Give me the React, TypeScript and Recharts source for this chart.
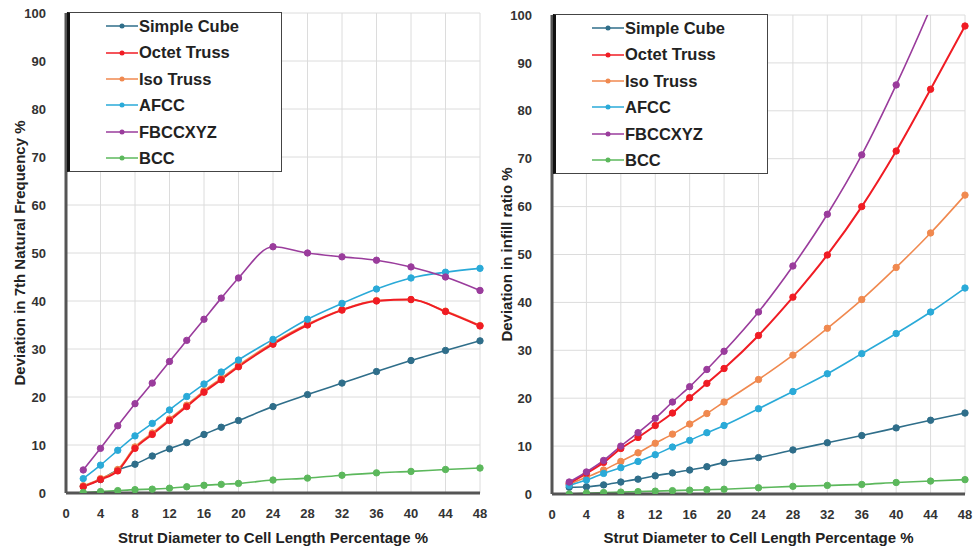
import React from 'react';
import { LineChart, Line, XAxis, YAxis, CartesianGrid, Legend } from 'recharts';

// strut diameter / cell length (%)
const xValues = [2, 4, 6, 8, 10, 12, 14, 16, 18, 20, 24, 28, 32, 36, 40, 44, 48];
const xTicks = [0, 4, 8, 12, 16, 20, 24, 28, 32, 36, 40, 44, 48];
const yTicks = [0, 10, 20, 30, 40, 50, 60, 70, 80, 90, 100];

// left chart: deviation in 7th natural frequency %
const freqSimpleCube = [1.4, 2.8, 4.8, 6.0, 7.7, 9.2, 10.5, 12.2, 13.7, 15.1, 18.0, 20.5, 22.9, 25.3, 27.6, 29.7, 31.7];
const freqOctetTruss = [1.3, 2.8, 4.6, 9.3, 12.2, 15.1, 18.0, 21.0, 23.6, 26.3, 31.0, 35.0, 38.1, 40.0, 40.3, 37.8, 34.8];
const freqIsoTruss = [1.5, 3.0, 4.9, 9.6, 12.5, 15.4, 18.3, 21.3, 23.9, 26.6, 31.3, 35.2, 38.2, 40.1, 40.3, 37.9, 34.9];
const freqAFCC = [3.0, 5.8, 8.9, 11.9, 14.5, 17.3, 20.1, 22.7, 25.2, 27.7, 32.0, 36.2, 39.5, 42.5, 44.8, 46.0, 46.8];
const freqFBCCXYZ = [4.8, 9.3, 14.0, 18.6, 22.9, 27.4, 31.8, 36.2, 40.6, 44.8, 51.3, 50.0, 49.2, 48.5, 47.1, 45.0, 42.2];
const freqBCC = [0.1, 0.3, 0.5, 0.7, 0.8, 1.0, 1.3, 1.6, 1.8, 2.0, 2.7, 3.1, 3.7, 4.2, 4.5, 4.9, 5.2];

// right chart: deviation in infill ratio %
const infillSimpleCube = [1.4, 1.5, 1.9, 2.5, 3.1, 3.8, 4.4, 5.0, 5.7, 6.6, 7.6, 9.2, 10.7, 12.2, 13.8, 15.4, 16.9];
const infillOctetTruss = [2.2, 4.3, 6.6, 9.5, 11.8, 14.3, 16.9, 20.1, 23.1, 26.2, 33.1, 41.1, 49.9, 60.0, 71.6, 84.5, 97.7];
const infillIsoTruss = [2.0, 3.5, 5.0, 6.8, 8.6, 10.6, 12.5, 14.6, 16.8, 19.2, 23.9, 29.0, 34.6, 40.6, 47.3, 54.5, 62.4];
const infillAFCC = [1.8, 2.9, 4.3, 5.5, 6.8, 8.2, 9.8, 11.2, 12.8, 14.3, 17.8, 21.4, 25.1, 29.3, 33.5, 38.0, 43.0];
const infillFBCCXYZ = [2.5, 4.6, 7.0, 10.0, 12.8, 15.8, 19.2, 22.4, 26.0, 29.8, 38.0, 47.6, 58.4, 70.8, 85.4, 101.5, 119.0];
const infillBCC = [0.0, 0.2, 0.3, 0.4, 0.5, 0.6, 0.7, 0.8, 0.9, 1.0, 1.3, 1.6, 1.8, 2.0, 2.4, 2.7, 3.0];

const seriesNames = ['Simple Cube', 'Octet Truss', 'Iso Truss', 'AFCC', 'FBCCXYZ', 'BCC'];
const seriesColors: Record<string, string> = {
  'Simple Cube': '#2f6e8a',
  'Octet Truss': '#f01c24',
  'Iso Truss': '#f0894f',
  AFCC: '#2aaad8',
  FBCCXYZ: '#9a3c9c',
  BCC: '#5cb85c',
};
// drawing order (Iso Truss under Octet Truss)
const drawOrder = ['Simple Cube', 'Iso Truss', 'Octet Truss', 'AFCC', 'FBCCXYZ', 'BCC'];

const FONT = '"Liberation Sans", Arial, sans-serif';

function buildRows(cols: Record<string, number[]>) {
  return xValues.map((x, i) => {
    const row: Record<string, number> = { x };
    Object.keys(cols).forEach((k) => (row[k] = cols[k][i]));
    return row;
  });
}

const freqData = buildRows({
  'Simple Cube': freqSimpleCube,
  'Octet Truss': freqOctetTruss,
  'Iso Truss': freqIsoTruss,
  AFCC: freqAFCC,
  FBCCXYZ: freqFBCCXYZ,
  BCC: freqBCC,
});

const infillData = buildRows({
  'Simple Cube': infillSimpleCube,
  'Octet Truss': infillOctetTruss,
  'Iso Truss': infillIsoTruss,
  AFCC: infillAFCC,
  FBCCXYZ: infillFBCCXYZ,
  BCC: infillBCC,
});

const LegendBox = () => (
  <div style={{ fontFamily: FONT, fontWeight: 'bold', fontSize: 16.5, color: '#222', lineHeight: 1 }}>
    {seriesNames.map((name) => (
      <div key={name} style={{ display: 'flex', alignItems: 'center', height: 26.4 }}>
        <svg width={32} height={10} style={{ marginLeft: 36, marginRight: 1 }}>
          <line x1={0} y1={5} x2={32} y2={5} stroke={seriesColors[name]} strokeWidth={1.5} />
          <circle cx={16} cy={5} r={2.5} fill={seriesColors[name]} />
        </svg>
        <span>{name}</span>
      </div>
    ))}
  </div>
);

const tickStyle = { fontFamily: FONT, fontWeight: 'bold' as const, fontSize: 13, fill: '#333' };

function Panel({
  data,
  yLabel,
  left,
  top,
  yAxisWidth,
  xAxisHeight,
  labelOffset,
}: {
  data: Record<string, number>[];
  yLabel: string;
  left: number;
  top: number;
  yAxisWidth: number;
  xAxisHeight: number;
  labelOffset: number;
}) {
  return (
    <div style={{ position: 'absolute', left, top: 0 }}>
      <LineChart width={490} height={553} data={data} margin={{ top, right: 10, bottom: 0, left: 0 }}>
        <CartesianGrid stroke="#dcdcdc" strokeWidth={1} />
        <XAxis
          dataKey="x"
          type="number"
          domain={[0, 48]}
          ticks={xTicks}
          interval={0}
          height={xAxisHeight}
          tick={tickStyle}
          tickLine={false}
          axisLine={{ stroke: '#555', strokeWidth: 3 }}
          tickMargin={10}
          label={{
            value: 'Strut Diameter to Cell Length Percentage %',
            position: 'insideBottom',
            offset: 10,
            style: { fontFamily: FONT, fontWeight: 'bold', fontSize: 15, fill: '#222' },
          }}
        />
        <YAxis
          type="number"
          domain={[0, 100]}
          ticks={yTicks}
          interval={0}
          allowDataOverflow
          width={yAxisWidth}
          tick={tickStyle}
          tickLine={false}
          axisLine={{ stroke: '#555', strokeWidth: 3 }}
          tickMargin={14}
          label={{
            value: yLabel,
            angle: -90,
            position: 'insideLeft',
            offset: labelOffset,
            style: { fontFamily: FONT, fontWeight: 'bold', fontSize: 15, fill: '#222', textAnchor: 'middle' },
          }}
        />
        <Legend
          layout="vertical"
          align="center"
          verticalAlign="middle"
          content={<LegendBox />}
          wrapperStyle={{
            left: yAxisWidth + 1,
            top: top - 1,
            width: 215,
            height: 160,
            background: '#fff',
            border: '1.5px solid #444',
            borderLeft: '3px solid #111',
            boxSizing: 'border-box',
          }}
        />
        {drawOrder.map((name) => (
          <Line
            key={name}
            type="monotone"
            dataKey={name}
            name={name}
            stroke={seriesColors[name]}
            strokeWidth={name === 'Octet Truss' ? 2 : 1.6}
            dot={{ r: 3.2, fill: seriesColors[name], stroke: seriesColors[name], strokeWidth: 1 }}
            activeDot={false}
            isAnimationActive={false}
          />
        ))}
      </LineChart>
    </div>
  );
}

export default function App() {
  return (
    <div style={{ position: 'absolute', left: 0, top: 0, width: 973, height: 553, background: '#fff', overflow: 'hidden' }}>
      <Panel
        data={freqData}
        yLabel="Deviation in 7th Natural Frequency %"
        left={0}
        top={13}
        yAxisWidth={66}
        xAxisHeight={60}
        labelOffset={20}
      />
      <Panel
        data={infillData}
        yLabel="Deviation in infill ratio %"
        left={485}
        top={15}
        yAxisWidth={67}
        xAxisHeight={59}
        labelOffset={22}
      />
    </div>
  );
}
